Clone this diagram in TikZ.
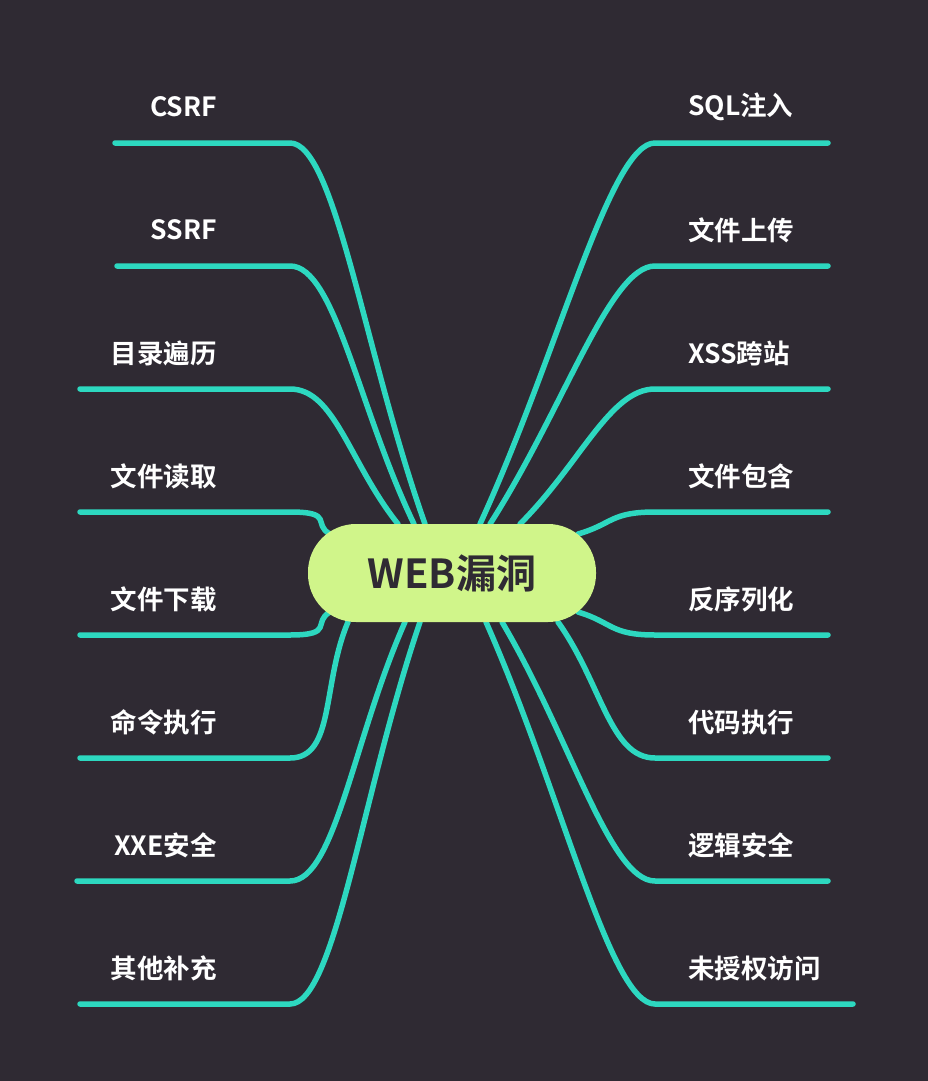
\documentclass[tikz,border=0pt]{standalone}
\usetikzlibrary{calc}
\usepackage{fontspec}
\newfontfamily\cjk{Noto Sans CJK SC Bold}
\definecolor{bg}{HTML}{2F2A33}
\definecolor{br}{HTML}{2DD8C0}
\definecolor{ctr}{HTML}{D0F58A}
\begin{document}
\begin{tikzpicture}[x=1pt,y=-1pt,
  branch/.style={draw=br,line width=5.5pt,line cap=round},
  lab/.style={text=white,font=\cjk\fontsize{26.5}{28}\selectfont,inner sep=0pt},
  llab/.style={lab,anchor=east},
  rlab/.style={lab,anchor=west}]
\fill[bg] (0,0) rectangle (928,1081);
\useasboundingbox (0,0) rectangle (928,1081);
% left
\foreach \y/\x/\ex/\ey/\t [count=\i] in {
 143/115/425/524/CSRF, 266/117/414/524/SSRF, 389/80/398/524/目录遍历, 512/80/330/534/文件读取,
 635/80/330/612/文件下载, 758/80/348/622/命令执行, 881/77/405/622/XXE安全, 1004/80/420/622/其他补充}{
  \coordinate (ls\i) at (\x,\y);
  \coordinate (lk\i) at (290,\y);
  \coordinate (le\i) at (\ex,\ey);
  \draw[branch] (ls\i) -- (lk\i) .. controls ($(lk\i)+(45,0)$) and ($(le\i)!0.45!(lk\i)$) .. (le\i);
  \node[llab] (ln\i) at (217,\y-36) {\t};
}
% right
\foreach \y/\x/\ex/\ey/\t [count=\i] in {
 143/828/480/524/SQL注入, 266/828/490/524/文件上传, 389/828/520/524/XSS跨站, 512/828/578/534/文件包含,
 635/828/578/612/反序列化, 758/828/558/622/代码执行, 881/828/502/622/逻辑安全, 1004/853/486/622/未授权访问}{
  \coordinate (rs\i) at (\x,\y);
  \coordinate (rk\i) at (655,\y);
  \coordinate (re\i) at (\ex,\ey);
  \draw[branch] (rs\i) -- (rk\i) .. controls ($(rk\i)+(-45,0)$) and ($(re\i)!0.45!(rk\i)$) .. (re\i);
  \node[rlab] (rn\i) at (688,\y-36) {\t};
}
\node[fill=ctr,rounded corners=48pt,minimum width=288pt,minimum height=98pt,
  text=bg,font=\cjk\fontsize{40}{44}\selectfont] (c) at (452,573) {WEB漏洞};
\end{tikzpicture}
\end{document}
